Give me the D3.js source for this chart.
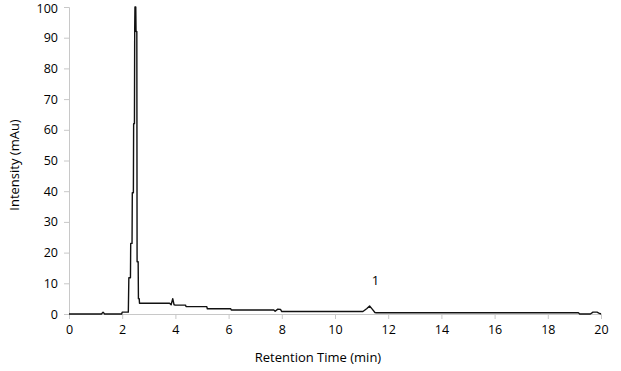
<!DOCTYPE html>
<html>
<head>
<meta charset="utf-8">
<script src="https://d3js.org/d3.v7.min.js"></script>
<style>
  body { margin: 0; background: #fff; }
  text { font-family: "Open Sans", sans-serif; fill: #000; }
</style>
</head>
<body>
<svg id="chart" width="621" height="371"></svg>
<script>
// retention time (min) and intensity (mAu)
var times = [0, 1.22, 1.28, 1.34, 1.98, 2.0, 2.23, 2.25, 2.31, 2.32, 2.37, 2.38, 2.42, 2.43,
  2.46, 2.47, 2.48, 2.51, 2.52, 2.55, 2.56, 2.6, 2.61, 2.64, 2.65, 3.78, 3.84, 3.9, 3.95, 4.0,
  4.38, 4.4, 5.18, 5.2, 6.08, 6.1, 7.7, 7.75, 7.85, 7.95, 8.0, 8.02, 11.05, 11.2, 11.3,
  11.4, 11.5, 11.55, 19.15, 19.2, 19.6, 19.7, 19.85, 19.92, 20];
var intensity = [0, 0, 0.6, 0, 0, 0.6, 0.6, 11.8, 11.8, 23, 23, 39.5, 39.5, 62,
  62, 93, 100, 100, 92, 92, 17, 17, 5, 5, 3.5, 3.5, 3.0, 5.0, 3.0, 2.9,
  2.9, 2.4, 2.4, 1.7, 1.7, 1.3, 1.3, 0.9, 1.6, 1.5, 0.8, 0.8, 0.8, 1.8, 2.6,
  1.6, 0.5, 0.4, 0.4, 0, 0, 0.6, 0.6, 0.3, 0];
var xTicks = d3.range(0, 21, 2);
var yTicks = d3.range(0, 101, 10);
var peakLabels = [{ t: 11.3, v: 2.6, label: "1" }];

var svg = d3.select("#chart");
var x = d3.scaleLinear().domain([0, 20]).range([69, 601]);
var y = d3.scaleLinear().domain([0, 100]).range([314, 7]);

var pts = times.map(function(t, i){ return [t, intensity[i]]; });

// axes
var xAxis = svg.append("g")
  .attr("transform", "translate(0," + y(0) + ")")
  .call(d3.axisBottom(x).tickValues(xTicks).tickSize(5).tickPadding(6));
var yAxis = svg.append("g")
  .attr("transform", "translate(" + x(0) + ",0)")
  .call(d3.axisLeft(y).tickValues(yTicks).tickSize(5).tickPadding(6));
[xAxis, yAxis].forEach(function(g){
  g.selectAll("path, line").attr("stroke", "#c8c8c8");
  g.selectAll("text").style("font-size", "12.5px");
});
// keep the top label inside the frame
yAxis.selectAll(".tick text").filter(function(d){ return d === 100; }).attr("dy", "0.45em");

// trace
svg.append("path")
  .datum(pts)
  .attr("fill", "none")
  .attr("stroke", "#111")
  .attr("stroke-width", 1.4)
  .attr("stroke-linejoin", "round")
  .attr("d", d3.line().x(function(d){ return x(d[0]); }).y(function(d){ return y(d[1]); }));

// peak label
svg.selectAll("text.peak").data(peakLabels).enter().append("text")
  .attr("class", "peak")
  .attr("x", function(d){ return x(d.t) + 6; })
  .attr("y", function(d){ return y(d.v) - 21; })
  .attr("text-anchor", "middle")
  .style("font-size", "13px")
  .text(function(d){ return d.label; });

// axis titles
svg.append("text")
  .attr("x", (x(0) + x(20)) / 2 - 17)
  .attr("y", 362)
  .attr("text-anchor", "middle")
  .style("font-size", "13px")
  .text("Retention Time (min)");
svg.append("text")
  .attr("transform", "translate(19," + 165 + ") rotate(-90)")
  .attr("text-anchor", "middle")
  .style("font-size", "13px")
  .text("Intensity (mAu)");
</script>
</body>
</html>
